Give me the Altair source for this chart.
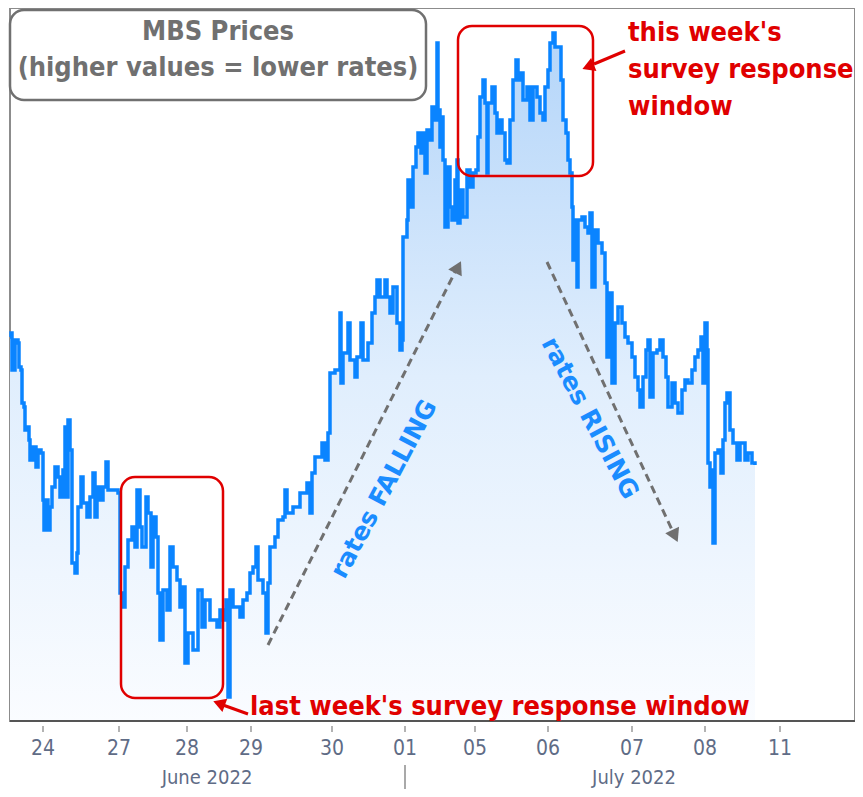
import altair as alt
import pandas as pd

# ---- price series (time index, price level) ----
t = [0,1,2,5,8,9,11,12,14,15,17,19,20,23,26,28,31,33,34,36,38,40,42,45,48,50,53,55,56,58,
     60,62,65,67,68,71,73,77,80,83,85,87,90,93,96,98,103,108,110,112,115,118,122,125,127,130,132,136,138,141,
     143,146,148,150,153,157,160,163,167,170,173,175,178,181,183,188,192,195,200,207,210,213,216,218,220,223,230,233,237,240,
     243,246,248,253,256,258,260,265,268,273,275,277,283,290,297,300,302,305,312,315,318,320,325,330,331,333,338,340,345,347,
     351,353,358,362,365,367,370,375,377,380,383,387,390,392,393,397,398,401,403,406,408,411,413,415,417,420,422,424,427,428,
     430,432,433,435,438,440,442,445,447,448,450,453,457,460,463,466,468,470,473,475,477,478,482,485,487,489,492,495,497,500,
     503,506,508,511,513,517,520,523,527,530,533,535,538,540,543,545,548,551,553,556,558,560,562,563,565,567,568,572,575,578,
     580,582,585,588,592,595,597,600,602,605,608,612,615,618,622,625,628,630,633,636,638,640,643,647,650,653,656,658,662,665,
     668,672,675,678,682,685,688,691,693,695,697,698,700,701,703,705,708,711,713,715,717,720,723,727,730,735,738,742,745]
v = [384,388,351,381,378,354,351,318,314,291,294,281,261,274,254,271,268,221,191,221,191,214,234,254,244,224,251,294,224,301,
     271,158,148,168,214,244,218,204,224,248,204,234,221,234,259,231,231,228,128,114,154,181,194,174,231,194,174,224,208,154,
     204,184,128,81,131,111,174,154,141,114,134,58,88,88,71,131,94,121,101,94,111,101,121,24,131,114,104,121,128,148,
     154,174,141,128,88,138,174,184,201,204,231,208,214,228,238,208,248,264,278,261,288,348,351,408,338,368,398,361,344,364,
     398,361,378,408,424,441,424,441,424,408,434,398,371,381,484,501,541,514,554,574,588,568,588,548,591,581,614,601,678,611,
     574,604,561,494,554,514,501,541,561,498,531,504,551,534,548,551,584,624,641,618,548,618,634,608,588,601,588,561,558,601,
     641,661,641,648,621,634,601,634,624,608,601,634,651,678,688,674,674,641,601,588,561,548,514,461,501,434,501,504,494,488,
     508,434,491,478,468,438,364,428,338,398,414,398,384,378,364,344,331,314,344,371,381,324,368,371,381,364,344,314,338,318,
     308,331,341,338,351,364,371,384,338,398,371,258,234,251,178,268,271,248,281,318,328,291,278,261,278,261,268,258,256]

# ---- axis labels ----
tick_vals = [33, 109, 177, 241, 322, 395, 465, 538, 622, 695, 770]
tick_labels = ["24", "27", "28", "29", "30", "01", "05", "06", "07", "08", "11"]
month_names = ["June 2022", "July 2022"]
month_pos = [197, 624]
month_sep = [395]

# ---- annotations (data units) ----
title_lines = ["MBS Prices", "(higher values = lower rates)"]
title_t = [208, 208]
title_v = [689, 653]
title_box = {"t": [0], "t2": [416], "v": [711], "v2": [621]}

red_box_t = [111, 448]
red_box_t2 = [213, 583]
red_box_v = [244, 695]
red_box_v2 = [23, 545]

this_week_lines = ["this week's", "survey response", "window"]
this_week_t = [618, 618, 618]
this_week_v = [688, 651, 614]
last_week_text = ["last week's survey response window"]
last_week_t = [240]
last_week_v = [14]

falling_text = ["rates FALLING"]
falling_t, falling_v, falling_angle = [374], [232], [298]
rising_text = ["rates RISING"]
rising_t, rising_v, rising_angle = [580], [303], [62]

gray_arrow_grp = ["a", "a", "b", "b"]
gray_arrow_t = [258, 446, 537, 663]
gray_arrow_v = [76, 451, 459, 189]
gray_head_t = [447, 664]
gray_head_v = [452, 187]
gray_head_angle = [27, 155]

red_arrow_grp = ["a", "a", "b", "b"]
red_arrow_t = [615, 584, 238, 213]
red_arrow_v = [670, 657, 7, 16]
red_head_t = [580, 211]
red_head_v = [655, 17]
red_head_angle = [248, 290]

W, H = 845, 713
xs = alt.Scale(domain=[0, W], nice=False, zero=False)
ys = alt.Scale(domain=[0, H], nice=False, zero=False)

AXIS_FONT = "Liberation Sans Narrow, DejaVu Sans Condensed, sans-serif"
AXIS_COLOR = "#5f6c86"

price = pd.DataFrame({"t": t, "v": v})


def X(field="t"):
    return alt.X(f"{field}:Q", scale=xs, axis=None)


def Y(field="v"):
    return alt.Y(f"{field}:Q", scale=ys, axis=None)


grad = alt.Gradient(gradient="linear",
                    stops=[alt.GradientStop(color="#fafcff", offset=0),
                           alt.GradientStop(color="#e0eefd", offset=0.5),
                           alt.GradientStop(color="#b4d5f9", offset=1)],
                    x1=1, x2=1, y1=1, y2=0)

area = alt.Chart(price).mark_area(interpolate="step-after", color=grad).encode(x=X(), y=Y())
line = alt.Chart(price).mark_line(interpolate="step-after", color="#0a84ff", strokeWidth=3.5).encode(
    x=X(), y=Y())

bottom_rule = alt.Chart(pd.DataFrame({"k": [0]})).mark_rule(color="#555555", strokeWidth=2).encode(
    x=alt.value(0), x2=alt.value(W), y=alt.value(H))

# x axis ticks and labels
tk = pd.DataFrame({"t": tick_vals, "s": tick_labels})
tick_marks = alt.Chart(tk).mark_rule(color="#9a9a9a", strokeWidth=1.5).encode(
    x=X(), y=alt.value(718), y2=alt.value(724))
tick_text = alt.Chart(tk).mark_text(font=AXIS_FONT, fontSize=21, color=AXIS_COLOR,
                                    align="center", baseline="middle").encode(
    x=X(), y=alt.value(741), text="s:N")

tb = pd.DataFrame(title_box)
title_rect = alt.Chart(tb).mark_rect(fill="white", stroke="#707070", strokeWidth=2.5, cornerRadius=14).encode(
    x=X("t"), x2="t2:Q", y=Y("v"), y2="v2:Q")
tdf = pd.DataFrame({"t": title_t, "v": title_v, "s": title_lines})
title_txt = alt.Chart(tdf).mark_text(font="DejaVu Sans Condensed", fontWeight="bold", fontSize=27,
                                     color="#707070", align="center", baseline="middle").encode(
    x=X(), y=Y(), text="s:N")

rb = pd.DataFrame({"t": red_box_t, "t2": red_box_t2, "v": red_box_v, "v2": red_box_v2})
red_rects = alt.Chart(rb).mark_rect(fillOpacity=0, stroke="#e00000", strokeWidth=2.5, cornerRadius=14).encode(
    x=X("t"), x2="t2:Q", y=Y("v"), y2="v2:Q")

tw = pd.DataFrame({"t": this_week_t, "v": this_week_v, "s": this_week_lines})
tw_txt = alt.Chart(tw).mark_text(font="DejaVu Sans Condensed", fontWeight="bold", fontSize=27,
                                 color="#e00000", align="left", baseline="middle").encode(
    x=X(), y=Y(), text="s:N")
lw = pd.DataFrame({"t": last_week_t, "v": last_week_v, "s": last_week_text})
lw_txt = alt.Chart(lw).mark_text(font="DejaVu Sans Condensed", fontWeight="bold", fontSize=27,
                                 color="#e00000", align="left", baseline="middle").encode(
    x=X(), y=Y(), text="s:N")

fdf = pd.DataFrame({"t": falling_t, "v": falling_v, "s": falling_text, "a": falling_angle})
f_txt = alt.Chart(fdf).mark_text(font="DejaVu Sans", fontWeight="bold", fontSize=25,
                                 color="#1a8cff", align="center", baseline="middle").encode(
    x=X(), y=Y(), text="s:N", angle=alt.Angle("a:Q", scale=None))
rdf = pd.DataFrame({"t": rising_t, "v": rising_v, "s": rising_text, "a": rising_angle})
r_txt = alt.Chart(rdf).mark_text(font="DejaVu Sans", fontWeight="bold", fontSize=25,
                                 color="#1a8cff", align="center", baseline="middle").encode(
    x=X(), y=Y(), text="s:N", angle=alt.Angle("a:Q", scale=None))

ga = pd.DataFrame({"t": gray_arrow_t, "v": gray_arrow_v, "g": gray_arrow_grp})
g_lines = alt.Chart(ga).mark_line(color="#707070", strokeWidth=3, strokeDash=[8, 5]).encode(
    x=X(), y=Y(), detail="g:N")
gh = pd.DataFrame({"t": gray_head_t, "v": gray_head_v, "a": gray_head_angle})
g_heads = alt.Chart(gh).mark_point(shape="triangle", filled=True, color="#707070", size=230, opacity=1).encode(
    x=X(), y=Y(), angle=alt.Angle("a:Q", scale=None))

ra = pd.DataFrame({"t": red_arrow_t, "v": red_arrow_v, "g": red_arrow_grp})
r_lines = alt.Chart(ra).mark_line(color="#e00000", strokeWidth=3).encode(
    x=X(), y=Y(), detail="g:N")
rh = pd.DataFrame({"t": red_head_t, "v": red_head_v, "a": red_head_angle})
r_heads = alt.Chart(rh).mark_point(shape="triangle", filled=True, color="#e00000", size=200, opacity=1).encode(
    x=X(), y=Y(), angle=alt.Angle("a:Q", scale=None))

md = pd.DataFrame({"t": month_pos, "s": month_names})
m_txt = alt.Chart(md).mark_text(font=AXIS_FONT, fontSize=20, color=AXIS_COLOR,
                                align="center", baseline="middle").encode(
    x=X(), y=alt.value(770), text="s:N")
sd = pd.DataFrame({"t": month_sep})
m_sep = alt.Chart(sd).mark_rule(color="#707070", strokeWidth=1.2).encode(
    x=X(), y=alt.value(757), y2=alt.value(781))

chart = alt.layer(
    area, line, bottom_rule, tick_marks, tick_text, title_rect, title_txt, red_rects, tw_txt, lw_txt,
    f_txt, r_txt, g_lines, g_heads, r_lines, r_heads, m_txt, m_sep
).properties(
    width=W, height=H,
    autosize=alt.AutoSizeParams(type="none"),
    padding={"left": 2, "top": 0, "right": 0, "bottom": 68},
).configure_view(stroke="#8c8c8c", strokeWidth=2)

chart.save("out.html", embed_options={"renderer": "svg", "actions": False})
